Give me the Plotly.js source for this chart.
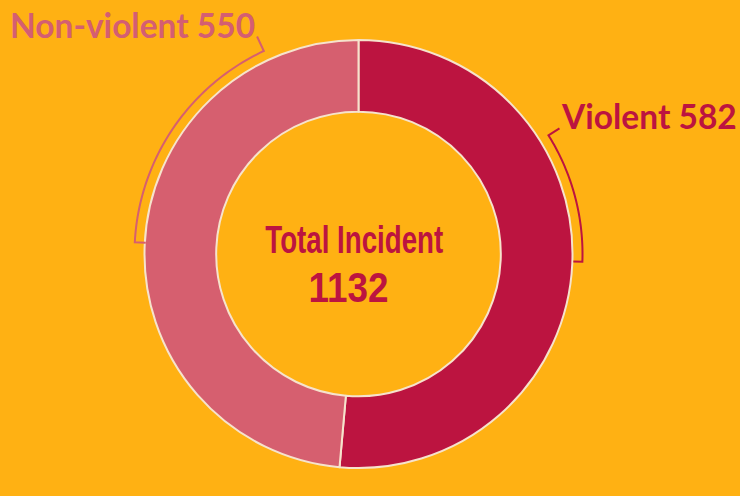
<!DOCTYPE html>
<html>
<head>
<meta charset="utf-8">
<script src="https://cdn.plot.ly/plotly-3.0.1.min.js"></script>
<style>html,body{margin:0;padding:0;background:#FFB113;}#chart{width:740px;height:496px;}</style>
</head>
<body>
<div id="chart"></div>
<script>
// ---- data ----
var categories = ['Violent', 'Non-violent'];
var incidents = [582, 550];
var centerTitle = 'Total Incident';

// ---- style / layout constants ----
var W = 740, H = 496;
var colors = ['#BC1440', '#D65F6F'];
var labelColors = ['#BC1440', '#D45E72'];
var bg = '#FFB113';
var cx = 358.5, cy = 254, R = 214;
var bracketR = 224;
// bracket spans in degrees clockwise from 12 o'clock (tick >0 outward)
var brackets = [
  {a0: 58, a1: 92, t0: 13, t1: -9},
  {a0: 273, a1: 335, t0: -11, t1: 16}
];
var labelPos = [
  {x: 559, y: 116},
  {x: 8, y: 25}
];
// condensed center text: target widths in px
var centerSpec = [
  {x: 354, y: 239, size: 39, width: 178},
  {x: 348, y: 287, size: 42, width: 80}
];

var total = incidents.reduce(function(a, b){ return a + b; }, 0);

function px(x){ return x / W; }
function py(y){ return 1 - y / H; }
function pt(angDeg, r){
  var a = angDeg * Math.PI / 180;
  return [cx + r * Math.sin(a), cy - r * Math.cos(a)];
}

var shapes = brackets.map(function(b, i){
  var p = [];
  var s0 = pt(b.a0, bracketR + b.t0);
  p.push('M' + px(s0[0]) + ',' + py(s0[1]));
  var n = 60;
  for (var k = 0; k <= n; k++) {
    var ang = b.a0 + (b.a1 - b.a0) * k / n;
    var q = pt(ang, bracketR);
    p.push('L' + px(q[0]) + ',' + py(q[1]));
  }
  var e1 = pt(b.a1, bracketR + b.t1);
  p.push('L' + px(e1[0]) + ',' + py(e1[1]));
  return {type: 'path', xref: 'paper', yref: 'paper', path: p.join(' '),
          line: {color: colors[i], width: 2}, fillcolor: 'rgba(0,0,0,0)'};
});

var annotations = categories.map(function(c, i){
  return {text: c + ' ' + incidents[i], xref: 'paper', yref: 'paper',
          x: px(labelPos[i].x), y: py(labelPos[i].y), xanchor: 'left', yanchor: 'middle',
          showarrow: false, font: {family: 'Lato, sans-serif', size: 33.5, color: labelColors[i], weight: 700}};
});
[centerTitle, String(total)].forEach(function(t, j){
  var s = centerSpec[j];
  annotations.push({text: t, xref: 'paper', yref: 'paper', x: px(s.x), y: py(s.y),
    xanchor: 'center', yanchor: 'middle', showarrow: false,
    font: {family: '"Liberation Sans", Arial, sans-serif', size: s.size, color: colors[0], weight: 700}});
});

var trace = {
  type: 'pie',
  labels: categories,
  values: incidents,
  sort: false,
  direction: 'clockwise',
  rotation: 0,
  hole: 0.665,
  textinfo: 'none',
  hoverinfo: 'label+value',
  marker: {colors: colors, line: {color: '#F6E3CC', width: 2}},
  domain: {x: [px(cx - R), px(cx + R)], y: [py(cy + R), py(cy - R)]},
  showlegend: false
};

var layout = {
  width: W, height: H,
  margin: {l: 0, r: 0, t: 0, b: 0},
  paper_bgcolor: bg, plot_bgcolor: bg,
  showlegend: false,
  shapes: shapes,
  annotations: annotations
};

Plotly.newPlot('chart', [trace], layout, {displayModeBar: false, staticPlot: true}).then(function(gd){
  var groups = gd.querySelectorAll('.annotation');
  [2, 3].forEach(function(idx, j){
    var g = groups[idx];
    if (!g) return;
    var txt = g.querySelector('text');
    if (!txt) return;
    var bb = txt.getBBox();
    var sx = centerSpec[j].width / bb.width;
    var mid = bb.x + bb.width / 2;
    txt.setAttribute('transform', 'translate(' + mid + ',0) scale(' + sx + ',1) translate(' + (-mid) + ',0)');
  });
});
</script>
</body>
</html>
